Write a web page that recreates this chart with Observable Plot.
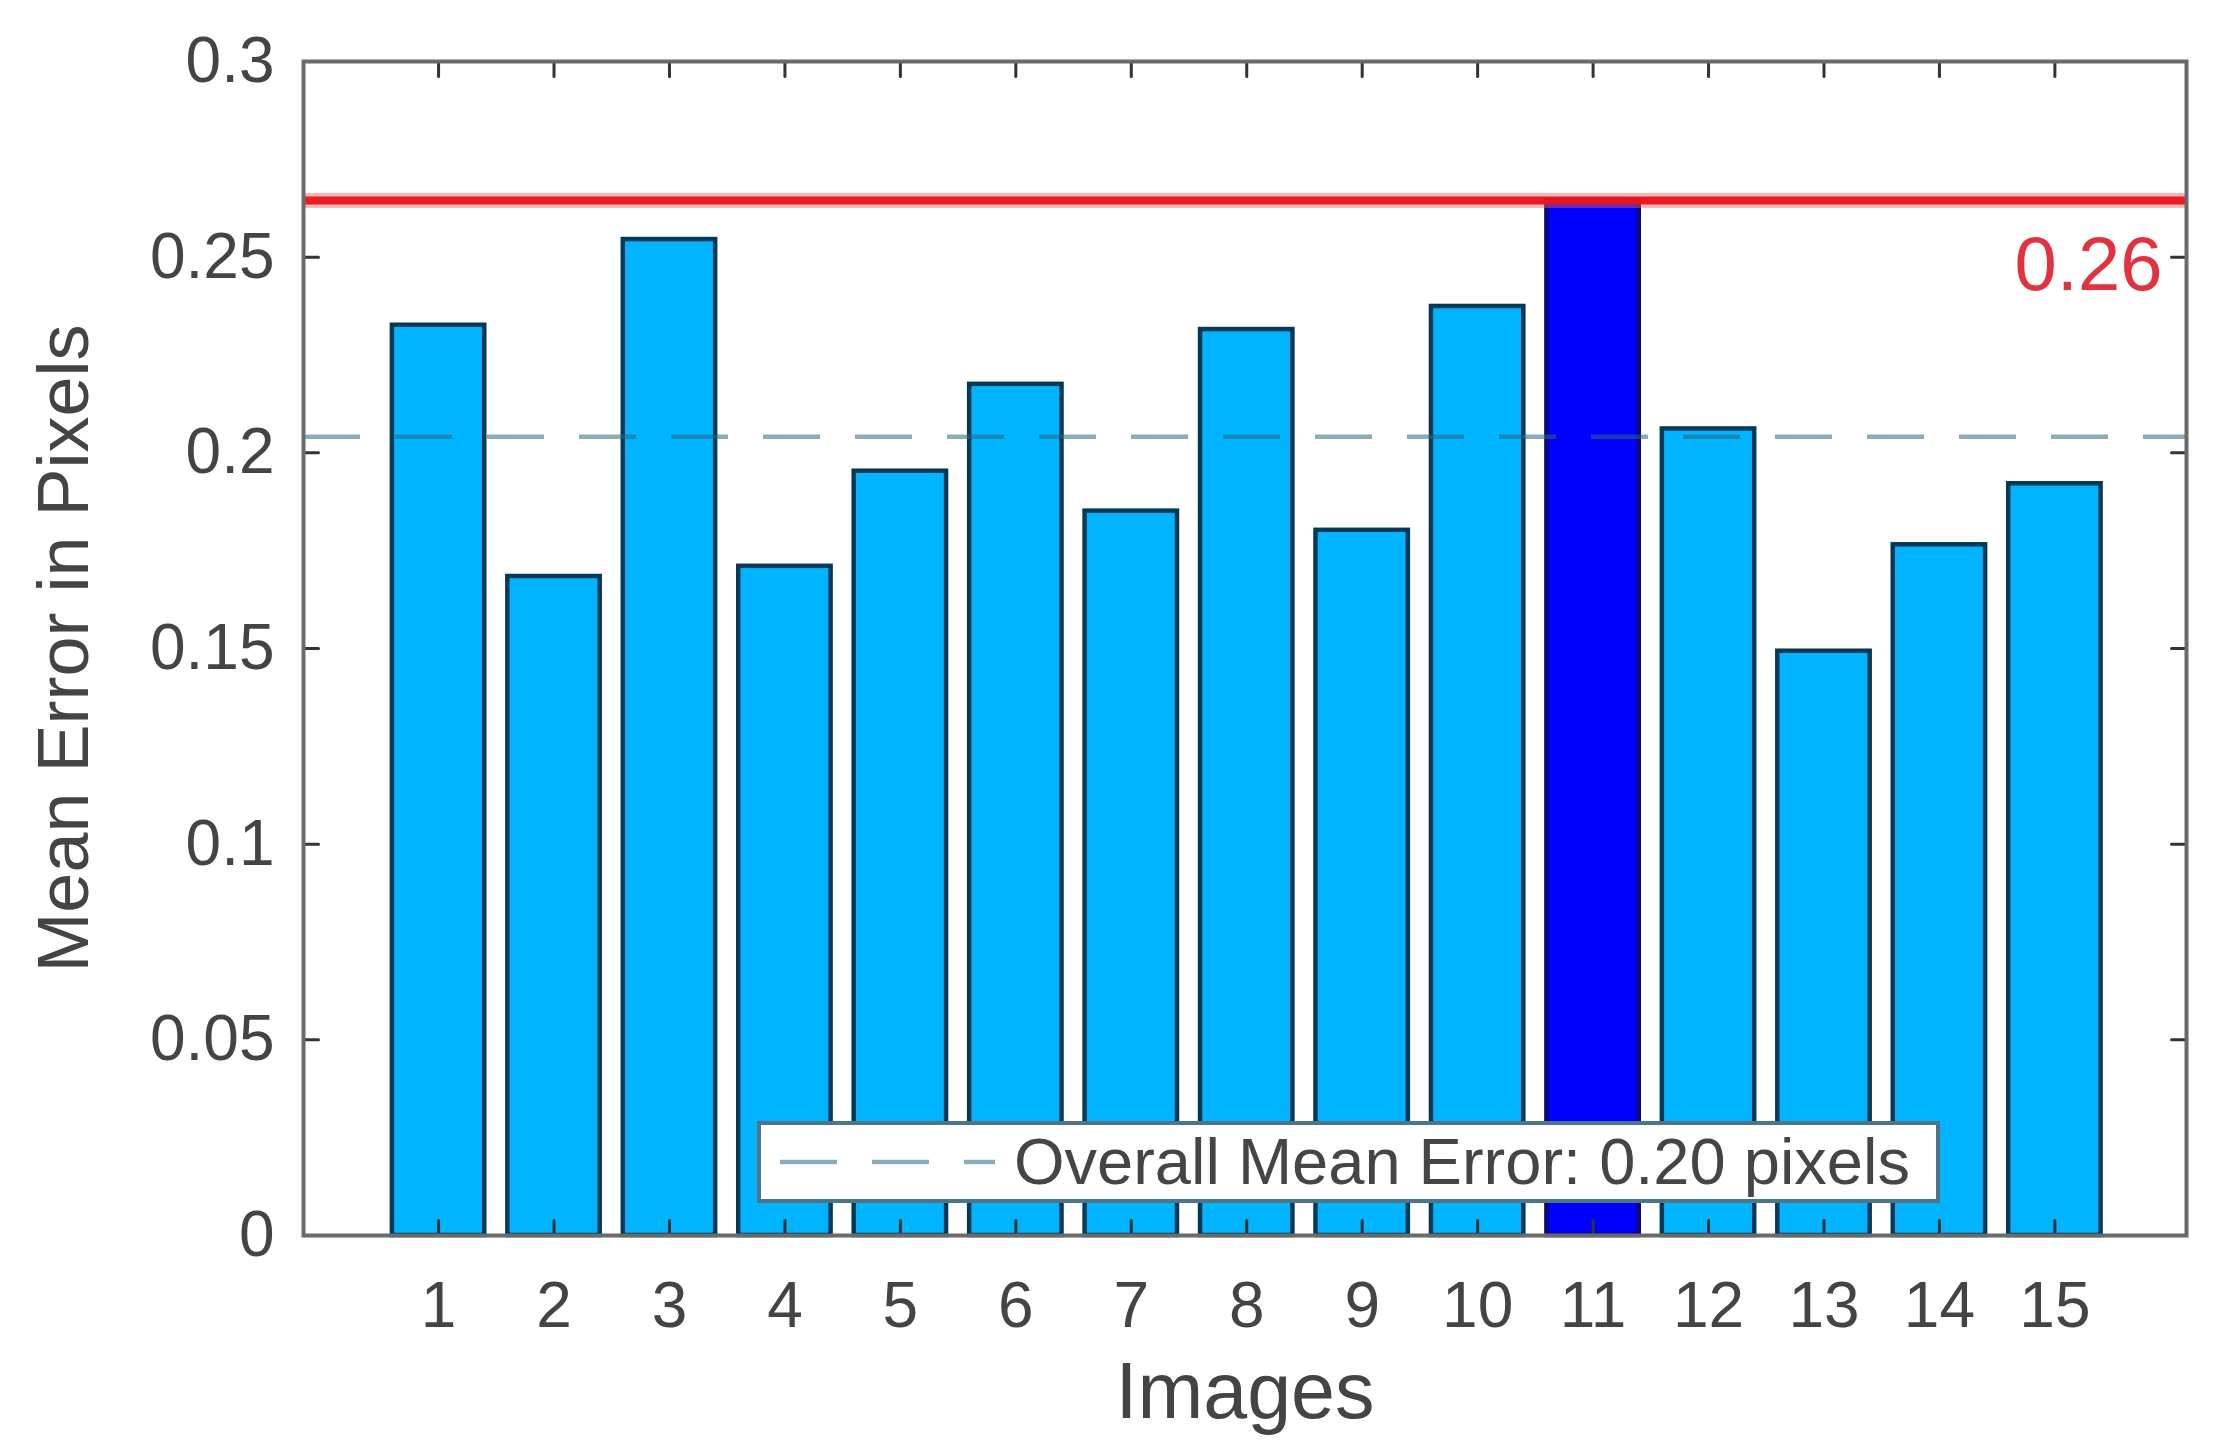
<!DOCTYPE html>
<html>
<head>
<meta charset="utf-8">
<script src="https://cdn.jsdelivr.net/npm/d3@7"></script>
<script src="https://cdn.jsdelivr.net/npm/@observablehq/plot@0.6"></script>
<style>
  html, body { margin: 0; padding: 0; background: #fff; }
  #wrap { position: relative; width: 2220px; height: 1452px; font-family: "Liberation Sans", Arial, sans-serif; }
  #legend {
    position: absolute; left: 757px; top: 1121px; width: 1183px; height: 82px;
    box-sizing: border-box; border: 4px solid #4d7588; background: #fff;
  }
  #legend svg { position: absolute; left: 15px; top: 0; }
  #legend span { position: absolute; left: 253px; font-size: 65px; color: #454545; white-space: nowrap; line-height: 74px; top: 0; }
</style>
</head>
<body>
<div id="wrap"></div>
<script>
// ---- data ----
const images = [1, 2, 3, 4, 5, 6, 7, 8, 9, 10, 11, 12, 13, 14, 15];
const meanErrors = [0.2326, 0.1684, 0.2545, 0.1710, 0.1953, 0.2175, 0.1851, 0.2315,
                    0.1802, 0.2374, 0.2645, 0.2061, 0.1493, 0.1765, 0.1921];
const yTicks = [0, 0.05, 0.1, 0.15, 0.2, 0.25, 0.3];
const xLabel = "Images";
const yLabel = "Mean Error in Pixels";
const legendLabelPrefix = "Overall Mean Error: ";
const legendLabelSuffix = " pixels";

// ---- derived ----
const table = images.map((image, i) => ({image, error: meanErrors[i]}));
const overallMean = d3.mean(meanErrors);
const maxError = d3.max(meanErrors);

// ---- style ----
const barWidth = 0.8;
const baseFill = "#00b4ff";
const highlightFill = "#0000ff";
const textColor = "#444";
const tickShape = {draw(context, length) { context.moveTo(0, 0); context.lineTo(0, -length); }};
const tickStyle = {length: 15, anchor: "start", shape: tickShape, stroke: "#333", strokeWidth: 3};

const chart = Plot.plot({
  width: 2220,
  height: 1452,
  marginLeft: 303,
  marginRight: 34,
  marginTop: 61,
  marginBottom: 217,
  style: {fontFamily: "'Liberation Sans', Arial, sans-serif", background: "#fff"},
  x: {domain: [-0.17, 16.14]},
  y: {domain: [0, 0.3]},
  color: {type: "identity"},
  marks: [
    Plot.rectY(table, {
      x1: d => d.image - barWidth / 2,
      x2: d => d.image + barWidth / 2,
      y: "error",
      fill: d => d.error === maxError ? highlightFill : baseFill,
      stroke: d => d.error === maxError ? "#0a0a70" : "#003a57",
      strokeWidth: 4.5
    }),
    Plot.ruleY([overallMean], {stroke: "#2d6680", strokeOpacity: 0.55, strokeWidth: 4.5, strokeDasharray: "57,35"}),
    Plot.ruleY([maxError], {stroke: "#ff5a5a", strokeOpacity: 0.45, strokeWidth: 15}),
    Plot.ruleY([maxError], {stroke: "#e8141c", strokeOpacity: 0.95, strokeWidth: 8}),
    Plot.text([maxError], {
      y: d => d, frameAnchor: "right", text: d => d.toFixed(2), textAnchor: "end", lineAnchor: "middle",
      dx: -24, dy: 65, fill: "#e2323e", fontSize: 76
    }),
    // inward ticks on all four sides
    Plot.vector(images, {x: d => d, frameAnchor: "bottom", rotate: 0, ...tickStyle}),
    Plot.vector(images, {x: d => d, frameAnchor: "top", rotate: 180, ...tickStyle}),
    Plot.vector(yTicks, {y: d => d, frameAnchor: "left", rotate: 90, ...tickStyle}),
    Plot.vector(yTicks, {y: d => d, frameAnchor: "right", rotate: -90, ...tickStyle}),
    Plot.axisX({ticks: images, tickFormat: d => String(d), tickSize: 0, tickPadding: 46, fontSize: 64, fill: textColor, label: null}),
    Plot.axisY({ticks: yTicks, tickFormat: d => String(d), tickSize: 0, tickPadding: 29, fontSize: 64, fill: textColor, label: null}),
    Plot.text([yLabel], {frameAnchor: "left", rotate: -90, textAnchor: "middle", lineAnchor: "middle", dx: -239, fontSize: 72, fill: textColor}),
    Plot.text([xLabel], {frameAnchor: "bottom", textAnchor: "middle", lineAnchor: "middle", dy: 157, fontSize: 79, fill: textColor}),
    Plot.frame({stroke: "#6a6a6a", strokeWidth: 4})
  ]
});

const wrap = document.getElementById("wrap");
wrap.appendChild(chart);

// legend (inside the axes, as in the original)
const legend = document.createElement("div");
legend.id = "legend";
legend.innerHTML =
  `<svg width="230" height="74"><line x1="4" x2="219" y1="37" y2="37" stroke="#2d6680" stroke-opacity="0.55" stroke-width="4.5" stroke-dasharray="57,35"/></svg>` +
  `<span>${legendLabelPrefix}${overallMean.toFixed(2)}${legendLabelSuffix}</span>`;
wrap.appendChild(legend);
</script>
</body>
</html>
